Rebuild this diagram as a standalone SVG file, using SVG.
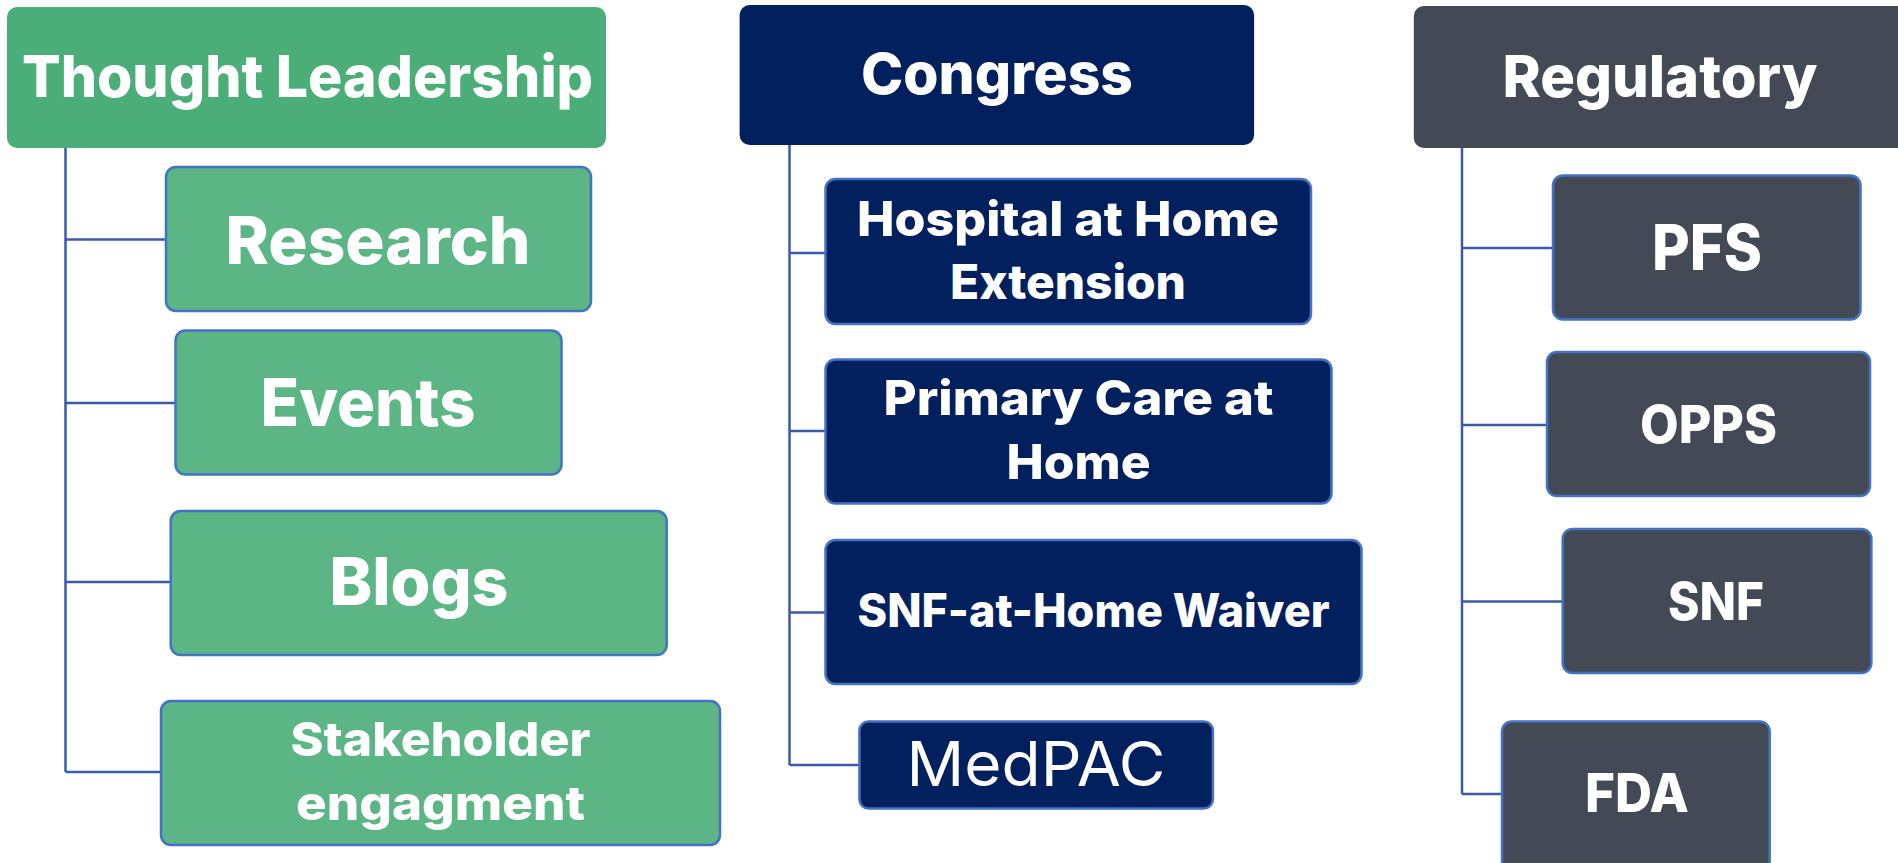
<svg xmlns="http://www.w3.org/2000/svg" width="1898" height="863" viewBox="0 0 1898 863">
<style>
.t{font-family:"Inter","Open Sans","DejaVu Sans",sans-serif;font-weight:800;fill:#ffffff;text-anchor:middle}
.reg{font-weight:400}
.hdr-g{fill:#4BAE79}
.hdr-n{fill:#03205E}
.hdr-s{fill:#434A55}
.ch{stroke:#4472C4;stroke-width:2.5}
.cg{fill:#5BB585}
.cn{fill:#03205E}
.cs{fill:#434A55}
.conn{fill:none;stroke:#3A5BA8;stroke-width:2.5}
</style>
<rect width="1898" height="863" fill="#ffffff"/>
<g id="connectors">
<path class="conn" d="M65.5 148 V772 M65.5 239.5 H166 M65.5 403 H175.5 M65.5 582 H170.7 M65.5 772 H161"/>
<path class="conn" d="M789.5 145 V765 M789.5 253 H825.5 M789.5 431 H825.5 M789.5 612.5 H825.5 M789.5 765 H859.4"/>
<path class="conn" d="M1462 148 V794 M1462 248 H1553 M1462 425 H1547 M1462 601.6 H1562.7 M1462 794 H1502"/>
</g>
<g id="thought-leadership">
<rect class="hdr-g" x="7" y="7" width="599" height="141" rx="10"/>
<text class="t" x="307.5" y="97" font-size="58" textLength="571" lengthAdjust="spacingAndGlyphs">Thought Leadership</text>
</g>
<g id="research">
<rect class="cg ch" x="166" y="167" width="425" height="144" rx="10"/>
<text class="t" x="378" y="264" font-size="66" textLength="305" lengthAdjust="spacingAndGlyphs">Research</text>
</g>
<g id="events">
<rect class="cg ch" x="175.5" y="330.5" width="386" height="144" rx="10"/>
<text class="t" x="368" y="426" font-size="66" textLength="215" lengthAdjust="spacingAndGlyphs">Events</text>
</g>
<g id="blogs">
<rect class="cg ch" x="170.7" y="511" width="496" height="144" rx="10"/>
<text class="t" x="419" y="605" font-size="66" textLength="179" lengthAdjust="spacingAndGlyphs">Blogs</text>
</g>
<g id="stakeholder">
<rect class="cg ch" x="161" y="701" width="559" height="144" rx="10"/>
<text class="t" x="440.5" y="756" font-size="47" textLength="300" lengthAdjust="spacingAndGlyphs">Stakeholder</text>
<text class="t" x="440.5" y="820" font-size="47" textLength="289" lengthAdjust="spacingAndGlyphs">engagment</text>
</g>
<g id="congress">
<rect class="hdr-n" x="739.6" y="5" width="514.5" height="140" rx="10"/>
<text class="t" x="997" y="94" font-size="57" textLength="272" lengthAdjust="spacingAndGlyphs">Congress</text>
</g>
<g id="hospital-at-home">
<rect class="cn ch" x="825.5" y="179" width="485.5" height="145" rx="10"/>
<text class="t" x="1068" y="236" font-size="48" textLength="422" lengthAdjust="spacingAndGlyphs">Hospital at Home</text>
<text class="t" x="1068" y="299" font-size="48" textLength="236" lengthAdjust="spacingAndGlyphs">Extension</text>
</g>
<g id="primary-care">
<rect class="cn ch" x="825.5" y="359.5" width="506" height="144" rx="10"/>
<text class="t" x="1078.5" y="415" font-size="48" textLength="390" lengthAdjust="spacingAndGlyphs">Primary Care at</text>
<text class="t" x="1078.5" y="479" font-size="48" textLength="144" lengthAdjust="spacingAndGlyphs">Home</text>
</g>
<g id="snf-waiver">
<rect class="cn ch" x="825.5" y="540" width="536" height="144" rx="10"/>
<text class="t" x="1093.5" y="627" font-size="46" textLength="472" lengthAdjust="spacingAndGlyphs">SNF-at-Home Waiver</text>
</g>
<g id="medpac">
<rect class="cn ch" x="859.4" y="721.4" width="353.5" height="87" rx="9"/>
<text class="t reg" x="1036" y="786" font-size="62" textLength="259" lengthAdjust="spacingAndGlyphs">MedPAC</text>
</g>
<g id="regulatory">
<rect class="hdr-s" x="1413.8" y="6" width="500" height="142" rx="10"/>
<text class="t" x="1660" y="97" font-size="58" textLength="315" lengthAdjust="spacingAndGlyphs">Regulatory</text>
</g>
<g id="pfs">
<rect class="cs ch" x="1553" y="175.5" width="307.5" height="144" rx="10"/>
<text class="t" x="1707" y="270" font-size="63" textLength="110" lengthAdjust="spacingAndGlyphs">PFS</text>
</g>
<g id="opps">
<rect class="cs ch" x="1547" y="352" width="323" height="144" rx="10"/>
<text class="t" x="1708.5" y="443" font-size="52" textLength="137" lengthAdjust="spacingAndGlyphs">OPPS</text>
</g>
<g id="snf">
<rect class="cs ch" x="1562.7" y="529" width="308.7" height="144" rx="10"/>
<text class="t" x="1716" y="620" font-size="52" textLength="96" lengthAdjust="spacingAndGlyphs">SNF</text>
</g>
<g id="fda">
<rect class="cs ch" x="1502" y="721.4" width="267.7" height="150" rx="10"/>
<text class="t" x="1637" y="812" font-size="54" textLength="104" lengthAdjust="spacingAndGlyphs">FDA</text>
</g>
</svg>
